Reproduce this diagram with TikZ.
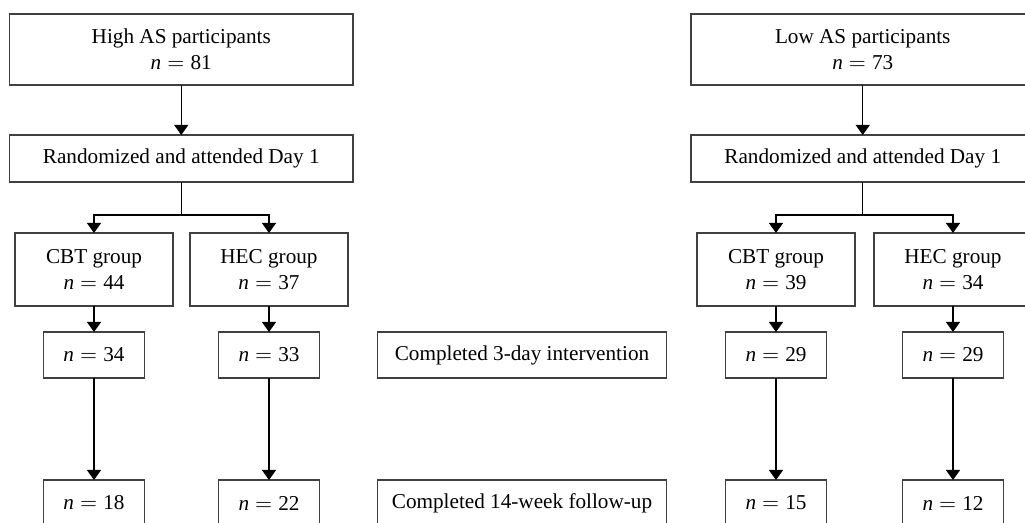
\documentclass[tikz,border=0pt]{standalone}
\usepackage{fontspec}
\setmainfont{Liberation Serif}
\usetikzlibrary{arrows.meta,positioning,calc}
\newcommand{\ncount}[1]{\textit{n}${}={}$#1}
\tikzset{
  basic/.style  = {draw=black!75, line width=0.8pt, rectangle, inner sep=0pt,
  outer sep=0pt, align=center, font=\fontsize{10.6}{13}\selectfont},
  sample/.style = {basic, minimum width=171.75pt, minimum height=35.5pt},
  rand/.style   = {basic, minimum width=171.75pt, minimum height=23.5pt},
  group/.style  = {basic, minimum width=79pt, minimum height=36.5pt},
  count/.style  = {basic, minimum width=50.5pt, minimum height=23pt},
  stage/.style  = {basic, minimum width=144.5pt, minimum height=23pt},
  link/.style   = {line width=0.6pt, -{Triangle[width=7pt,length=5pt]}}
}

\begin{document}
\begin{tikzpicture}
\useasboundingbox (-4.75pt,7pt) rectangle ++(512.5pt,-261.5pt);
% left arm
\node[sample,anchor=north west] (high) at (0,0) {High AS participants\\ \ncount{81}};
\node[below=25pt of high,rand] (rand1) {Randomized and attended Day 1};
\node[below right=25.5pt and 2.75pt of rand1.south west,group] (cbt1) {CBT group\\ \ncount{44}};
\node[right=8.5pt of cbt1,group] (hec1) {HEC group\\ \ncount{37}};
\node[below=13pt of cbt1,count] (cbt1a) {\ncount{34}};
\node[below=13pt of hec1,count] (hec1a) {\ncount{33}};
\node[below=51pt of cbt1a,count] (cbt1b) {\ncount{18}};
\node[below=51pt of hec1a,count] (hec1b) {\ncount{22}};

% stage labels
\node[right=29pt of hec1a,stage] (day3) {Completed 3-day intervention};
\node[below=51pt of day3,stage] (week14) {Completed 14-week follow-up};

% right arm
\node[right=169pt of high,sample] (low) {Low AS participants\\ \ncount{73}};
\node[below=25pt of low,rand] (rand2) {Randomized and attended Day 1};
\node[below right=25.5pt and 3pt of rand2.south west,group] (cbt2) {CBT group\\ \ncount{39}};
\node[right=9.5pt of cbt2,group] (hec2) {HEC group\\ \ncount{34}};
\node[below=13pt of cbt2,count] (cbt2a) {\ncount{29}};
\node[below=13pt of hec2,count] (hec2a) {\ncount{29}};
\node[below=51pt of cbt2a,count] (cbt2b) {\ncount{15}};
\node[below=51pt of hec2a,count] (hec2b) {\ncount{12}};

\coordinate (split1) at ($(rand1.south)+(0,-16.5pt)$);
\coordinate (split2) at ($(rand2.south)+(0,-16.5pt)$);

\path[link] (high) edge (rand1);
\draw[line width=0.6pt] (rand1.south) -- (split1);
\draw[link] (split1) -| (cbt1.north);
\draw[link] (split1) -| (hec1.north);
\path[link] (cbt1) edge (cbt1a) (cbt1a) edge (cbt1b);
\path[link] (hec1) edge (hec1a) (hec1a) edge (hec1b);

\path[link] (low) edge (rand2);
\draw[line width=0.6pt] (rand2.south) -- (split2);
\draw[link] (split2) -| (cbt2.north);
\draw[link] (split2) -| (hec2.north);
\path[link] (cbt2) edge (cbt2a) (cbt2a) edge (cbt2b);
\path[link] (hec2) edge (hec2a) (hec2a) edge (hec2b);
\end{tikzpicture}
\end{document}
